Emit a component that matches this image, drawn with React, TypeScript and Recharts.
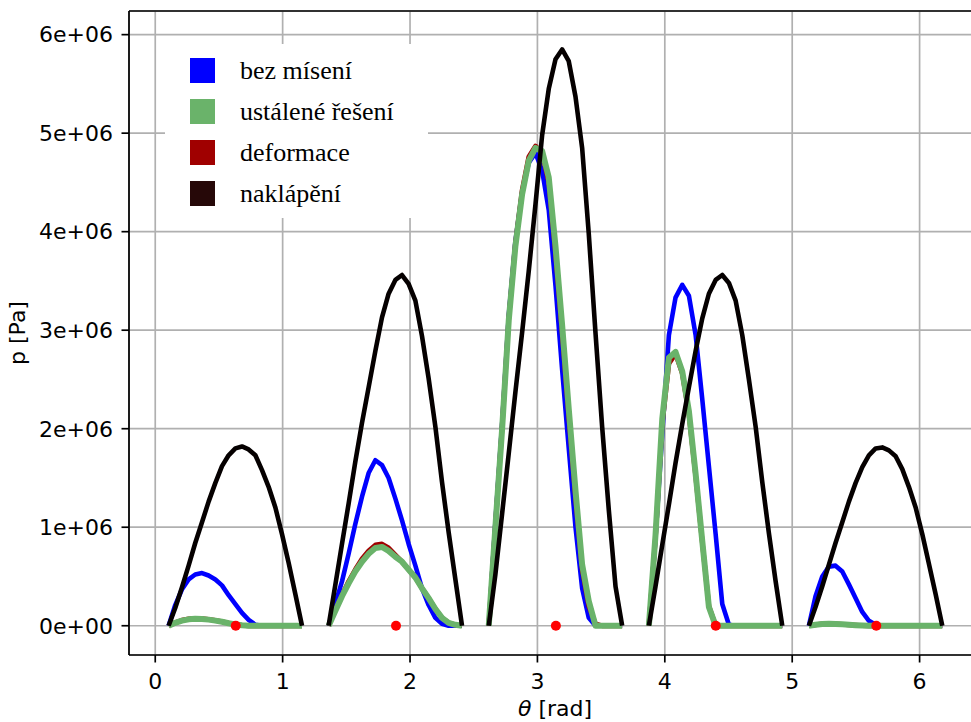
import React from 'react';
import { ComposedChart, Line, Scatter, XAxis, YAxis, CartesianGrid, ReferenceLine, Legend, Label } from 'recharts';

// pads: start angle of each pad and the angular grid inside a pad [rad]
const THETA_START = [0.105, 1.361, 2.618, 3.875, 5.131];
const THETA_STEP = [0, 0.052, 0.105, 0.157, 0.209, 0.262, 0.314, 0.367, 0.419, 0.471, 0.524,
  0.576, 0.628, 0.681, 0.733, 0.785, 0.838, 0.890, 0.942, 0.995, 1.047];
const PIVOTS = [0.632, 1.89, 3.145, 4.4, 5.66];

// pressure [1e6 Pa], one row per pad
const BEZ_MISENI = [
  [0, 0.21, 0.37, 0.47, 0.52, 0.535, 0.51, 0.47, 0.41, 0.31, 0.22, 0.13, 0.06, 0.01, 0, 0, 0, 0, 0, 0, 0],
  [0, 0.22, 0.45, 0.73, 1.03, 1.31, 1.55, 1.68, 1.63, 1.50, 1.29, 1.07, 0.83, 0.61, 0.38, 0.21, 0.08, 0.02, 0, 0, 0],
  [0, 1.05, 2.05, 3.15, 3.9, 4.4, 4.7, 4.8, 4.62, 4.22, 3.45, 2.6, 1.8, 1.0, 0.38, 0.08, 0, 0, 0, 0, 0],
  [0, 0.9, 1.95, 2.95, 3.33, 3.46, 3.35, 2.95, 2.3, 1.62, 0.93, 0.22, 0.01, 0, 0, 0, 0, 0, 0, 0, 0],
  [0, 0.3, 0.5, 0.6, 0.61, 0.55, 0.42, 0.28, 0.14, 0.05, 0.01, 0, 0, 0, 0, 0, 0, 0, 0, 0, 0],
];
const USTALENE = [
  [0, 0.03, 0.052, 0.065, 0.07, 0.068, 0.062, 0.052, 0.04, 0.025, 0.012, 0.004, 0, 0, 0, 0, 0, 0, 0, 0, 0],
  [0, 0.15, 0.30, 0.43, 0.55, 0.65, 0.73, 0.79, 0.80, 0.76, 0.70, 0.65, 0.57, 0.49, 0.38, 0.28, 0.17, 0.08, 0.03, 0.01, 0],
  [0, 1.0, 2.0, 3.1, 3.85, 4.38, 4.72, 4.85, 4.82, 4.55, 3.85, 3.05, 2.2, 1.37, 0.62, 0.25, 0, 0, 0, 0, 0],
  [0, 0.92, 2.1, 2.72, 2.78, 2.58, 2.18, 1.54, 0.86, 0.19, 0, 0, 0, 0, 0, 0, 0, 0, 0, 0, 0],
  [0, 0.01, 0.018, 0.02, 0.018, 0.014, 0.009, 0.005, 0.002, 0, 0, 0, 0, 0, 0, 0, 0, 0, 0, 0, 0],
];
const DEFORMACE = [
  [0, 0.033, 0.056, 0.07, 0.075, 0.072, 0.065, 0.054, 0.042, 0.027, 0.013, 0.004, 0, 0, 0, 0, 0, 0, 0, 0, 0],
  [0, 0.16, 0.31, 0.45, 0.57, 0.68, 0.76, 0.82, 0.83, 0.79, 0.72, 0.65, 0.57, 0.49, 0.38, 0.28, 0.17, 0.08, 0.03, 0.01, 0],
  [0, 1.02, 2.02, 3.12, 3.88, 4.42, 4.76, 4.87, 4.8, 4.5, 3.78, 2.97, 2.12, 1.3, 0.57, 0.2, 0.02, 0, 0, 0, 0],
  [0, 0.9, 2.05, 2.66, 2.76, 2.56, 2.15, 1.52, 0.85, 0.2, 0, 0, 0, 0, 0, 0, 0, 0, 0, 0, 0],
  [0, 0.01, 0.018, 0.02, 0.018, 0.014, 0.009, 0.005, 0.002, 0, 0, 0, 0, 0, 0, 0, 0, 0, 0, 0, 0],
];
const NAKLAPENI = [
  [0, 0.18, 0.39, 0.61, 0.84, 1.05, 1.26, 1.45, 1.62, 1.73, 1.80, 1.82, 1.79, 1.73, 1.58, 1.41, 1.20, 0.93, 0.64, 0.32, 0],
  [0, 0.41, 0.83, 1.24, 1.66, 2.06, 2.42, 2.79, 3.13, 3.37, 3.51, 3.56, 3.47, 3.30, 2.94, 2.51, 2.02, 1.46, 0.95, 0.47, 0],
  [0, 0.52, 1.14, 1.75, 2.37, 2.98, 3.60, 4.28, 4.98, 5.45, 5.75, 5.85, 5.73, 5.37, 4.85, 3.98, 2.97, 2.02, 1.18, 0.40, 0],
  [0, 0.40, 0.82, 1.23, 1.65, 2.05, 2.42, 2.79, 3.12, 3.37, 3.51, 3.56, 3.48, 3.30, 2.95, 2.50, 2.02, 1.46, 0.94, 0.45, 0],
  [0, 0.19, 0.40, 0.62, 0.84, 1.05, 1.26, 1.45, 1.61, 1.73, 1.80, 1.81, 1.78, 1.72, 1.59, 1.41, 1.20, 0.93, 0.63, 0.32, 0],
];

const X_TICKS = [0, 1, 2, 3, 4, 5, 6];
const Y_TICKS = [0, 1, 2, 3, 4, 5, 6];
const X_MIN = -0.206;
const X_MAX = 6.482;
const Y_MIN = -0.297;
const Y_MAX = 6.24;

const SERIES = [
  { key: 'bez', name: 'bez mísení', color: '#0000ff' },
  { key: 'ustalene', name: 'ustálené řešení', color: '#6ab36a' },
  { key: 'deformace', name: 'deformace', color: '#a00000' },
  { key: 'naklapeni', name: 'naklápění', color: '#260808' },
];

// one table, a null row between pads so that the lines break
const rows: any[] = [];
THETA_START.forEach((t0, s) => {
  THETA_STEP.forEach((dt, k) => {
    rows.push({
      theta: +(t0 + dt).toFixed(3),
      bez: BEZ_MISENI[s][k],
      ustalene: USTALENE[s][k],
      deformace: DEFORMACE[s][k],
      naklapeni: NAKLAPENI[s][k],
    });
  });
  if (s < THETA_START.length - 1) {
    rows.push({ theta: +(t0 + 1.15).toFixed(3), bez: null, ustalene: null, deformace: null, naklapeni: null });
  }
});
const pivotRows = PIVOTS.map((t) => ({ theta: t, p: 0 }));

const tickFont = { fontFamily: 'DejaVu Sans', fontSize: 22, fill: '#000' };

const renderLegend = () => (
  <div style={{ position: 'relative', width: 263, height: 174, background: '#fff' }}>
    {SERIES.map((s, i) => (
      <div
        key={s.key}
        style={{
          position: 'absolute', left: 25, top: 6 + i * 41, height: 41,
          display: 'flex', alignItems: 'center', whiteSpace: 'nowrap',
        }}
      >
        <span style={{ display: 'inline-block', width: 25, height: 25, background: s.color }} />
        <span style={{ marginLeft: 25, fontFamily: '"Liberation Serif", serif', fontSize: 26, color: '#000' }}>
          {s.name}
        </span>
      </div>
    ))}
  </div>
);

const dot = (props: any) => <circle cx={props.cx} cy={props.cy} r={5} fill="#ff0000" />;

export default function App() {
  return (
    <div style={{ position: 'absolute', left: 0, top: 0, width: 971, height: 722, overflow: 'hidden', background: '#fff' }}>
      <ComposedChart width={990} height={722} data={rows} margin={{ top: 11, right: 9, left: 0, bottom: 0 }}>
        <CartesianGrid stroke="#b0b0b0" strokeWidth={1.7} />
        <XAxis
          dataKey="theta" type="number" domain={[X_MIN, X_MAX]} ticks={X_TICKS} allowDataOverflow
          height={67} tickSize={7.5} tickMargin={11} tick={tickFont}
          axisLine={{ stroke: '#000', strokeWidth: 1.7 }} tickLine={{ stroke: '#000', strokeWidth: 1.7 }}
        >
          <Label
            content={(p: any) => {
              const vb = p.viewBox;
              return (
                <text x={vb.x + vb.width / 2} y={vb.y + 61} textAnchor="middle" fontFamily="DejaVu Sans" fontSize={22} fill="#000">
                  <tspan fontStyle="italic">θ</tspan>
                  <tspan> [rad]</tspan>
                </text>
              );
            }}
          />
        </XAxis>
        <YAxis
          type="number" domain={[Y_MIN, Y_MAX]} ticks={Y_TICKS} allowDataOverflow
          width={129} tickSize={7.5} tickMargin={8.5} tick={tickFont}
          tickFormatter={(v: number) => (v === 0 ? '0e+00' : `${v}e+06`)}
          axisLine={{ stroke: '#000', strokeWidth: 1.7 }} tickLine={{ stroke: '#000', strokeWidth: 1.7 }}
        >
          <Label
            content={(p: any) => {
              const vb = p.viewBox;
              const x = vb.x + 25;
              const y = vb.y + vb.height / 2;
              return (
                <text x={x} y={y} transform={`rotate(-90, ${x}, ${y})`} textAnchor="middle" fontFamily="DejaVu Sans" fontSize={22} fill="#000">
                  p [Pa]
                </text>
              );
            }}
          />
        </YAxis>
        <ReferenceLine y={Y_MAX} stroke="#000" strokeWidth={1.7} />
        <Legend
          layout="horizontal" verticalAlign="middle" align="center"
          content={renderLegend}
          wrapperStyle={{ left: 165, top: 44, width: 263, height: 174 }}
        />
        <Line dataKey="bez" stroke="#0000ff" strokeWidth={4.6} dot={false} type="linear" isAnimationActive={false} strokeLinejoin="round" />
        <Line dataKey="deformace" stroke="#a00000" strokeWidth={4.8} dot={false} type="linear" isAnimationActive={false} strokeLinejoin="round" />
        <Line dataKey="ustalene" stroke="#6ab36a" strokeWidth={6} dot={false} type="linear" isAnimationActive={false} strokeLinejoin="round" />
        <Line dataKey="naklapeni" stroke="#050000" strokeWidth={4.6} dot={false} type="linear" isAnimationActive={false} strokeLinejoin="round" />
        <Scatter data={pivotRows} dataKey="p" shape={dot} isAnimationActive={false} legendType="none" />
      </ComposedChart>
    </div>
  );
}
